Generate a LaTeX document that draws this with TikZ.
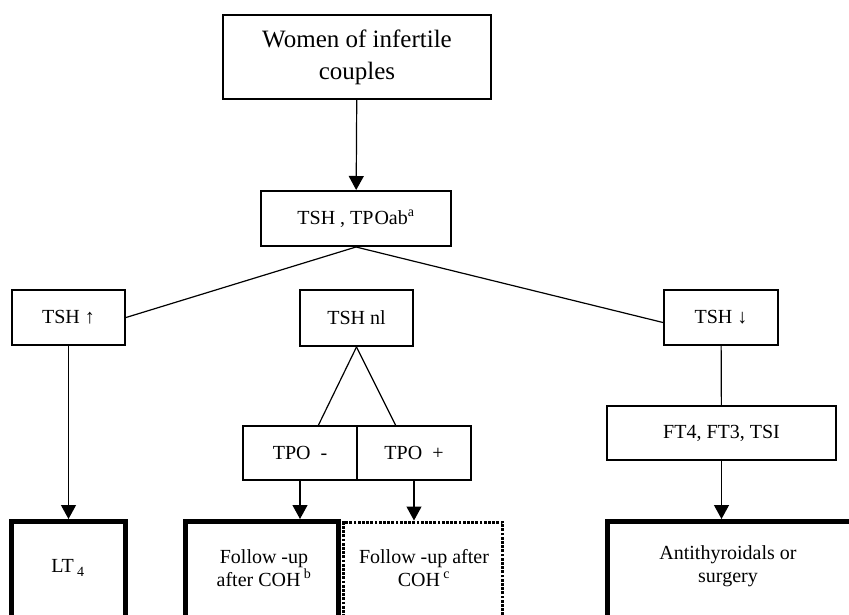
\documentclass[tikz,border=0pt]{standalone}
\usepackage{fontspec}
\setmainfont{Liberation Serif}
\usetikzlibrary{arrows.meta}
\newcommand\fsz[2]{\fontsize{#1}{#2}\selectfont}
\tikzset{
  box/.style={draw, line width=2pt, inner sep=0pt, font=\fsz{20}{23}},
  heavybox/.style={draw, line width=5pt, inner sep=0pt},
  dotbox/.style={draw, line width=3pt, dash pattern=on 2.8pt off 1.4pt, inner sep=0pt},
  txt/.style={inner sep=0pt, align=center, font=\fsz{20}{22.5}},
  conn/.style={line width=1.2pt},
  arr/.style={conn, -{Triangle[width=15pt,length=14pt]}}
}
\begin{document}
\begin{tikzpicture}[x=1pt,y=-1pt]
\useasboundingbox (0,0) rectangle (849,615);
\fill[white] (0,0) rectangle (849,615);
\begin{scope}
\clip (0,0) rectangle (849,615);
% top
\node[box, minimum width=268pt, minimum height=84pt, align=center, font=\fsz{25}{32}] (women) at (357,57) {Women of infertile\\couples};
\node[box, minimum width=190pt, minimum height=55pt] (tsh) at (356,218.5) {TSH , TP\hspace{1pt}Oab\textsuperscript{a}};
% second level
\node[box, minimum width=113pt, minimum height=55pt] (tshup) at (68.5,317.5) {TSH ↑};
\node[box, minimum width=113pt, minimum height=56pt] (tshnl) at (356.5,318) {TSH nl};
\node[box, minimum width=114pt, minimum height=55pt] (tshdn) at (721,317.5) {TSH ↓};
% third level
\node[box, minimum width=114pt, minimum height=54pt] (tpom) at (300,453) {TPO \ -};
\node[box, minimum width=114pt, minimum height=54pt] (tpop) at (414,453) {TPO \ +};
\node[box, minimum width=229pt, minimum height=54pt] (ft) at (721.5,433) {FT4, FT3, TSI};
% bottom boxes
\node[heavybox, minimum width=114pt, minimum height=140pt] (lt4box) at (68.5,591.5) {};
\node[heavybox, minimum width=153pt, minimum height=140pt] (fubbox) at (262,591.5) {};
\node[dotbox, minimum width=159pt, minimum height=140pt] (fucbox) at (423,592) {};
\node[heavybox, minimum width=300pt, minimum height=140pt] (antibox) at (757.5,591.5) {};
\node[txt] (lt4) at (68,568) {LT\,\textsubscript{4}};
\node[txt] (fub) at (264,568) {Follow -up\\after COH\,\textsuperscript{b}};
\node[txt] (fuc) at (424,568) {Follow -up after\\COH\,\textsuperscript{c}};
\node[txt] (anti) at (728,566) {Antithyroidals or\\surgery};
\end{scope}
% connectors
\draw[arr] (women) -- (tsh);
\draw[conn] (tsh.south) -- (tshup.east);
\draw[conn] (tsh.south) -- ([yshift=-5pt]tshdn.west);
\draw[conn] (tshnl.south) -- ([xshift=18.5pt]tpom.north);
\draw[conn] (tshnl.south) -- ([xshift=-18.5pt]tpop.north);
\draw[conn] (tshdn) -- (ft);
\draw[arr] (tshup) -- (lt4box);
\draw[arr] (tpom.south) -- (tpom.south |- fubbox.north);
\draw[arr] (tpop.south) -- (tpop.south |- fucbox.north);
\draw[arr] (ft.south) -- (ft.south |- antibox.north);
\end{tikzpicture}
\end{document}
